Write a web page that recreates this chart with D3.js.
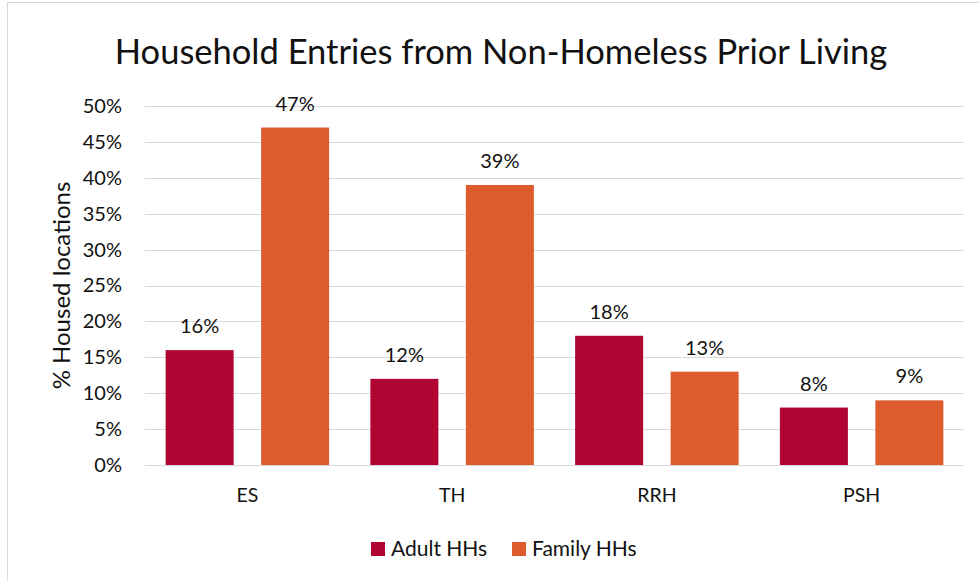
<!DOCTYPE html>
<html>
<head>
<meta charset="utf-8">
<script src="https://cdn.jsdelivr.net/npm/d3@7"></script>
<style>
  html, body { margin: 0; padding: 0; background: #fff; }
  svg { display: block; font-family: Lato, "Open Sans", sans-serif; }
</style>
</head>
<body>
<svg id="chart" width="979" height="581"></svg>
<script>
// Program types along the x axis
const categories = ["ES", "TH", "RRH", "PSH"];
// Household series
const seriesNames = ["Adult HHs", "Family HHs"];
// Share of entries from non-homeless prior living (percent)
const adultValues = [16, 12, 18, 8];
const familyValues = [47, 39, 13, 9];
// Y axis ticks (percent)
const yTicks = [0, 5, 10, 15, 20, 25, 30, 35, 40, 45, 50];

const colors = { "Adult HHs": "#B00533", "Family HHs": "#DE5B2E" };
const textColor = "#111";

const svg = d3.select("#chart");
const W = 979, H = 581;

// Chart frame
svg.append("rect")
  .attr("x", 7.5).attr("y", 2.5)
  .attr("width", W).attr("height", H)
  .attr("fill", "#fff")
  .attr("stroke", "#d9d9d9").attr("stroke-width", 1);

const plot = { left: 145, right: 964, top: 106, bottom: 465 };

const x = d3.scaleBand()
  .domain(categories)
  .range([plot.left, plot.right])
  .paddingInner(0).paddingOuter(0);

const xs = d3.scaleBand()
  .domain(seriesNames)
  .range([0, x.bandwidth()])
  .paddingInner(0.288).paddingOuter(0.216);

const y = d3.scaleLinear()
  .domain([0, 50])
  .range([plot.bottom, plot.top]);

// Horizontal gridlines
svg.append("g")
  .selectAll("line")
  .data(yTicks)
  .join("line")
  .attr("x1", plot.left).attr("x2", plot.right)
  .attr("y1", d => Math.round(y(d)) + 0.5)
  .attr("y2", d => Math.round(y(d)) + 0.5)
  .attr("stroke", "#d9d9d9").attr("stroke-width", 1);

// Y axis labels
const yAxis = d3.axisLeft(y)
  .tickValues(yTicks)
  .tickFormat(d => d + "%")
  .tickSize(0).tickPadding(23);
const yg = svg.append("g")
  .attr("transform", `translate(${plot.left},0)`)
  .call(yAxis);
yg.select(".domain").remove();
yg.selectAll("text")
  .attr("font-family", "Lato, sans-serif")
  .attr("font-size", 20)
  .attr("fill", textColor);

// X axis labels
const xAxis = d3.axisBottom(x).tickSize(0).tickPadding(23);
const xg = svg.append("g")
  .attr("transform", `translate(0,${plot.bottom})`)
  .call(xAxis);
xg.select(".domain").remove();
xg.selectAll("text")
  .attr("font-family", "Lato, sans-serif")
  .attr("font-size", 19.5)
  .attr("fill", textColor);

// Bar data
const rows = categories.map((c, i) => ({
  category: c,
  values: [
    { series: "Adult HHs", value: adultValues[i] },
    { series: "Family HHs", value: familyValues[i] }
  ]
}));

const groups = svg.append("g")
  .selectAll("g")
  .data(rows)
  .join("g")
  .attr("transform", d => `translate(${x(d.category)},0)`);

groups.selectAll("rect")
  .data(d => d.values)
  .join("rect")
  .attr("x", d => xs(d.series))
  .attr("width", xs.bandwidth())
  .attr("y", d => y(d.value))
  .attr("height", d => y(0) - y(d.value))
  .attr("fill", d => colors[d.series]);

groups.selectAll("text")
  .data(d => d.values)
  .join("text")
  .attr("x", d => xs(d.series) + xs.bandwidth() / 2)
  .attr("y", d => y(d.value) - 17)
  .attr("text-anchor", "middle")
  .attr("font-size", 20)
  .attr("fill", textColor)
  .text(d => d.value + "%");

// Title
svg.append("text")
  .attr("x", 501).attr("y", 64)
  .attr("text-anchor", "middle")
  .attr("font-size", 34.5)
  .attr("fill", textColor)
  .text("Household Entries from Non-Homeless Prior Living");

// Y axis title
svg.append("text")
  .attr("transform", `translate(70,${(plot.top + plot.bottom) / 2}) rotate(-90)`)
  .attr("text-anchor", "middle")
  .attr("font-size", 24)
  .attr("fill", textColor)
  .text("% Housed locations");

// Legend
const legendX = [371, 512];
const legend = svg.append("g")
  .selectAll("g")
  .data(seriesNames)
  .join("g")
  .attr("transform", (d, i) => `translate(${legendX[i]},542)`);
legend.append("rect")
  .attr("width", 14).attr("height", 14)
  .attr("fill", d => colors[d]);
legend.append("text")
  .attr("x", 20).attr("y", 14)
  .attr("font-size", 21)
  .attr("fill", textColor)
  .text(d => d);
</script>
</body>
</html>
